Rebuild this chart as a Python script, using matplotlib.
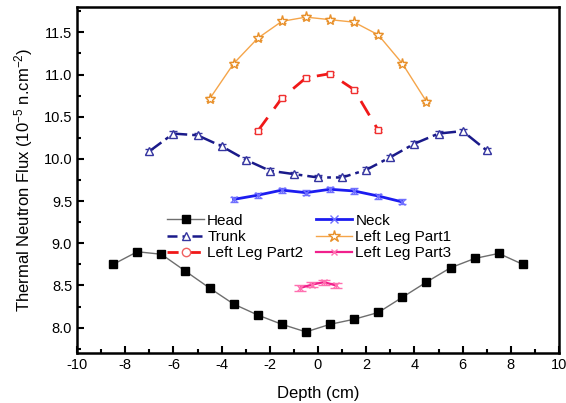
import matplotlib
matplotlib.use("Agg")
import matplotlib.pyplot as plt
from matplotlib.lines import Line2D
from matplotlib.ticker import MultipleLocator

plt.rcParams['font.family'] = ['Liberation Sans', 'DejaVu Sans']
plt.rcParams['mathtext.fontset'] = 'custom'
plt.rcParams['mathtext.rm'] = 'Liberation Sans'
plt.rcParams['mathtext.it'] = 'Liberation Sans'
plt.rcParams['axes.unicode_minus'] = False

head_x = [-8.5, -7.5, -6.5, -5.5, -4.5, -3.5, -2.5, -1.5, -0.5, 0.5, 1.5, 2.5, 3.5, 4.5, 5.5, 6.5, 7.5, 8.5]
head_y = [8.75, 8.90, 8.87, 8.67, 8.47, 8.28, 8.15, 8.04, 7.95, 8.04, 8.10, 8.18, 8.36, 8.54, 8.71, 8.82, 8.88, 8.75]

neck_x = [-3.5, -2.5, -1.5, -0.5, 0.5, 1.5, 2.5, 3.5]
neck_y = [9.52, 9.57, 9.63, 9.60, 9.64, 9.62, 9.56, 9.49]
neck_err = [0.03, 0.03, 0.03, 0.03, 0.03, 0.03, 0.03, 0.03]

trunk_x = [-7, -6, -5, -4, -3, -2, -1, 0, 1, 2, 3, 4, 5, 6, 7]
trunk_y = [10.09, 10.30, 10.28, 10.15, 9.99, 9.86, 9.82, 9.78, 9.78, 9.87, 10.02, 10.18, 10.30, 10.33, 10.10]
trunk_err = [0.03] * 15

leg1_x = [-4.5, -3.5, -2.5, -1.5, -0.5, 0.5, 1.5, 2.5, 3.5, 4.5]
leg1_y = [10.71, 11.13, 11.43, 11.63, 11.68, 11.65, 11.62, 11.47, 11.13, 10.68]
leg1_err = [0.02] * 10

leg2_x = [-2.5, -1.5, -0.5, 0.5, 1.5, 2.5]
leg2_y = [10.33, 10.72, 10.96, 11.01, 10.82, 10.34]
leg2_err = [0.02] * 6

leg3_x = [-0.75, -0.25, 0.25, 0.75]
leg3_y = [8.47, 8.51, 8.54, 8.50]
leg3_err = [0.03] * 4

fig = plt.figure(figsize=(5.66, 4.03), dpi=100)
ax = fig.add_axes([77/566, 1-353/403, (559-77)/566, (353-7)/403])

c_head_line = '#6e6e6e'
c_neck = '#1c1cf0'
c_trunk = '#1a1a8a'
c_leg1 = '#f5a54a'
c_leg2 = '#f01818'
c_leg3 = '#f0208c'

ax.plot(head_x, head_y, color=c_head_line, lw=1.0, marker='s', ms=5.5,
        mfc='black', mec='black', zorder=3)
ax.errorbar(neck_x, neck_y, yerr=neck_err, color=c_neck, lw=2.0, marker='x', ms=5,
            mec='#7070ff', ecolor='#7070ff', elinewidth=1, capsize=3, zorder=3)
ax.errorbar(trunk_x, trunk_y, yerr=trunk_err, color=c_trunk, lw=1.8, ls=(0, (6, 2, 1.5, 2)),
            marker='^', ms=6, mfc='white', mec='#3535a0', mew=1.0,
            ecolor='#3535a0', elinewidth=0.8, capsize=3, zorder=3)
ax.errorbar(leg1_x, leg1_y, yerr=leg1_err, color=c_leg1, lw=1.0, marker='*', ms=8,
            mfc='white', mec='#e8902a', mew=1.0, ecolor='#e8902a', elinewidth=0.8,
            capsize=3, zorder=3)
ax.errorbar(leg2_x, leg2_y, yerr=leg2_err, color=c_leg2, lw=2.0, ls=(0, (6, 4)),
            marker='s', ms=5, mfc='white', mec='#f03030', mew=1.0,
            ecolor='#f03030', elinewidth=0.8, capsize=3, zorder=3)
ax.errorbar(leg3_x, leg3_y, yerr=leg3_err, color=c_leg3, lw=1.6, marker='x', ms=4,
            mec='#ff70b0', ecolor='#ff70b0', elinewidth=0.8, capsize=4, zorder=3)

ax.set_xlim(-10, 10)
ax.set_ylim(7.7, 11.8)
ax.xaxis.set_major_locator(MultipleLocator(2))
ax.xaxis.set_minor_locator(MultipleLocator(1))
ax.yaxis.set_major_locator(MultipleLocator(0.5))
ax.yaxis.set_minor_locator(MultipleLocator(0.25))
ax.tick_params(which='both', direction='in', top=False, right=False, width=1.5, labelsize=10.5)
ax.tick_params(which='major', length=5)
ax.tick_params(which='minor', length=3)
for s in ax.spines.values():
    s.set_linewidth(1.8)

ax.set_xlabel('Depth (cm)', fontsize=12, labelpad=10)
ax.set_ylabel('Thermal Neutron Flux (10$^{-5}$ n.cm$^{-2}$)', fontsize=12, labelpad=6)

h_head = Line2D([], [], color=c_head_line, lw=1.0, marker='s', ms=5.5, mfc='black', mec='black')
h_neck = Line2D([], [], color=c_neck, lw=2.0, marker='x', ms=6, mec='#7070ff')
h_trunk = Line2D([], [], color=c_trunk, lw=1.8, ls=(0, (4, 2, 2, 2)), marker='^', ms=6,
                 mfc='white', mec='#3535a0')
h_leg1 = Line2D([], [], color=c_leg1, lw=1.0, marker='*', ms=9, mfc='white', mec='#e8902a')
h_leg2 = Line2D([], [], color=c_leg2, lw=2.0, ls=(0, (4, 4)), marker='o', ms=6,
                mfc='white', mec='#f06060')
h_leg3 = Line2D([], [], color=c_leg3, lw=1.6, marker='x', ms=4, mec='#ff70b0')
handles = [h_head, h_trunk, h_leg2, h_neck, h_leg1, h_leg3]
labels = ['Head', 'Trunk', 'Left Leg Part2', 'Neck', 'Left Leg Part1', 'Left Leg Part3']
ax.legend(handles, labels, loc='upper left', bbox_to_anchor=(0.175, 0.42), ncol=2,
          frameon=False, fontsize=11, handlelength=2.4, handletextpad=0.2,
          columnspacing=0.8, labelspacing=0.15, borderaxespad=0)

fig.savefig('out.png', dpi=100)
